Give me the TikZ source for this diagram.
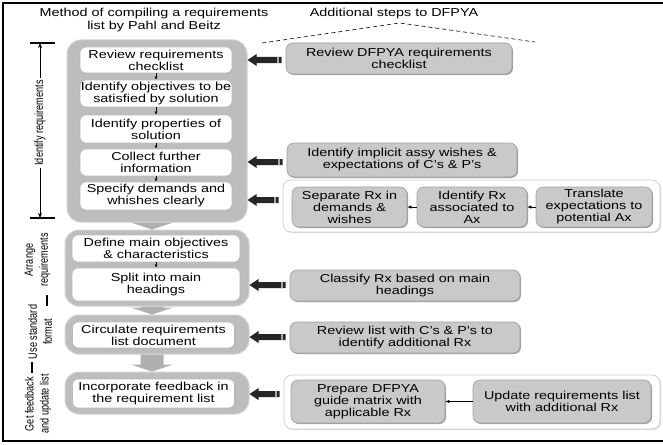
\documentclass[tikz,border=0pt]{standalone}
\usepackage{fontspec}
\setmainfont{Liberation Sans}[FakeStretch=1.25]
\newfontfamily\labfont{Liberation Sans}[FakeStretch=0.76]
\usetikzlibrary{arrows.meta,shadows,calc}
\newcommand\boxfs{\fontsize{11.5}{12}\selectfont}
\newcommand\grayarrow[2]{%
  \fill[gray!62] let \p1=($(#1.south)+(-5pt,0)$), \p2=(#2.north) in
    (\x1-11.5pt,\y1) -- (\x1+11.5pt,\y1) -- (\x1+11.5pt,\y2+7pt) -- (\x1+21pt,\y2+7pt)
    -- (\x1,\y2) -- (\x1-21pt,\y2+7pt) -- (\x1-11.5pt,\y2+7pt) -- cycle;}
\newcommand\bkarrow[3]{%
  \fill[black!85] let \p1=(#1.west), \p2=(#2.east), \p3=(0,#3) in
    (\x2,\y3) -- (\x2+9pt,\y3+6pt) -- (\x2+9pt,\y3+3pt) -- (\x1-4pt,\y3+3pt)
    -- (\x1-4pt,\y3-3pt) -- (\x2+9pt,\y3-3pt) -- (\x2+9pt,\y3-6pt) -- cycle;
  \fill[gray!70] let \p1=(#1.west), \p3=(0,#3) in
    (\x1-9pt,\y3+3pt) rectangle (\x1-7pt,\y3-3pt);}
\begin{document}
\begin{tikzpicture}[x=1pt,y=-1pt,
  container/.style={draw=gray!35, line width=1pt, fill=gray!52, rounded corners=14pt, inner sep=0pt},
  wbox/.style={draw=gray!55, line width=0.6pt, fill=white, rounded corners=6pt, inner sep=0pt, align=center, font=\boxfs,
    drop shadow={shadow xshift=0.8pt, shadow yshift=-0.8pt, fill=gray!60, opacity=0.7}},
  gbox/.style={draw=gray!75, line width=0.6pt, fill=gray!42, rounded corners=7pt, inner sep=0pt, align=center, font=\boxfs,
    drop shadow={shadow xshift=1pt, shadow yshift=-1pt, fill=gray!75!black, opacity=0.6}},
  encl/.style={draw=gray!40, line width=0.7pt, fill=white, rounded corners=8pt, inner sep=0pt,
    drop shadow={shadow xshift=1pt, shadow yshift=-1pt, fill=gray!35, opacity=0.8}},
  lab/.style={rotate=90, align=center, inner sep=2pt, font=\labfont\fontsize{12}{15}\selectfont},
  title/.style={align=center, inner sep=0pt, font=\fontsize{11.5}{13}\selectfont},
  small/.style={-{Latex[length=3pt,width=3pt]}, line width=0.5pt},
  hsmall/.style={-{Latex[length=4pt,width=3.5pt]}, line width=0.7pt}
]
\useasboundingbox (0,0) rectangle (663,444);
% frame
\draw[line width=2.5pt] (663,3) -- (3,3) -- (3,441) -- (663,441);

% titles
\node[title] (t1) at (154,20.5) {Method of compiling a requirements\\list by Pahl and Beitz};
\node[title] (t2) at (394,14) {Additional steps to DFPYA};
\coordinate (dl) at (262,43);
\coordinate (dt) at (400,23);
\coordinate (dr) at (535,42);
\draw[dash pattern=on 4pt off 3pt, line width=0.6pt] (dl) -- (dt) -- (dr);

% containers
\node[container, minimum width=180pt, minimum height=182pt] (c1) at (157,131) {};
\node[container, minimum width=184pt, minimum height=76pt] (c2) at (157,268) {};
\node[container, minimum width=184pt, minimum height=39pt] (c3) at (157,334.5) {};
\node[container, minimum width=184pt, minimum height=42pt] (c4) at (157,393) {};

\grayarrow{c1}{c2}
\grayarrow{c2}{c3}
\grayarrow{c3}{c4}

% white boxes
\node[wbox, minimum width=152pt, minimum height=26pt] (b1) at (156,60) {Review requirements\\checklist};
\node[wbox, minimum width=152pt, minimum height=27pt] (b2) at (156,93.5) {Identify objectives to be\\satisfied by solution};
\node[wbox, minimum width=152pt, minimum height=28pt] (b3) at (156,129) {Identify properties of\\solution};
\node[wbox, minimum width=152pt, minimum height=27pt] (b4) at (156,162.5) {Collect further\\information};
\node[wbox, minimum width=152pt, minimum height=28pt] (b5) at (156,196) {Specify demands and\\whishes clearly};
\node[wbox, minimum width=168pt, minimum height=27pt] (b6) at (156,248.5) {Define main objectives\\\& characteristics};
\node[wbox, minimum width=168pt, minimum height=33pt] (b7) at (156,284.5) {Split into main\\headings};
\node[wbox, minimum width=162pt, minimum height=26pt] (b8) at (153.5,335) {Circulate requirements\\list document};
\node[wbox, minimum width=162pt, minimum height=29pt] (b9) at (153.5,393.5) {Incorporate feedback in\\the requirement list};

\draw[small] (b1.south) -- (b2.north);
\draw[small] (b2.south) -- (b3.north);
\draw[small] (b3.south) -- (b4.north);
\draw[small] (b4.south) -- (b5.north);
\draw[small] (b6.south) -- (b7.north);

% right side
\node[gbox, minimum width=226pt, minimum height=31pt] (r1) at (399,58.5) {Review DFPYA requirements\\checklist};
\node[gbox, minimum width=230pt, minimum height=34pt] (r2) at (402,160) {Identify implicit assy wishes \&\\expectations of C's \& P's};
\node[encl, minimum width=377pt, minimum height=52pt] (e1) at (471.5,206) {};
\node[gbox, minimum width=115pt, minimum height=40pt] (s1) at (349.5,207) {Separate Rx in\\demands \&\\wishes};
\node[gbox, minimum width=110pt, minimum height=40pt] (s2) at (472,207) {Identify Rx\\associated to\\Ax};
\node[gbox, minimum width=116pt, minimum height=40pt] (s3) at (594,207) {Translate\\expectations to\\potential Ax};
\node[gbox, minimum width=230pt, minimum height=31pt] (r3) at (405,285.5) {Classify Rx based on main\\headings};
\node[gbox, minimum width=230pt, minimum height=31pt] (r4) at (405,337.5) {Review list with C's \& P's to\\identify additional Rx};
\node[encl, minimum width=376pt, minimum height=54pt] (e2) at (472,402) {};
\node[gbox, minimum width=154pt, minimum height=43pt] (p1) at (368,401.5) {Prepare DFPYA\\guide matrix with\\applicable Rx};
\node[gbox, minimum width=178pt, minimum height=43pt] (p2) at (562,401.5) {Update requirements list\\with additional Rx};

\draw[hsmall] (s2.west) -- (s1.east);
\draw[hsmall] (s3.west) -- (s2.east);
\draw[hsmall] (p2.west) -- (p1.east);

% thick arrows
\bkarrow{r1}{c1}{60}
\bkarrow{r2}{c1}{162}
\bkarrow{e1}{c1}{200}
\bkarrow{r3}{c2}{285}
\bkarrow{r4}{c3}{337}
\bkarrow{e2}{c4}{394}

% left labels
\node[lab] (lid) at (40,123) {Identify requirements};
\coordinate (ltop) at (40,43);
\coordinate (lbot) at (40,218);
\draw[-{Stealth[length=5pt,width=4pt]}, line width=0.8pt] (lid.east) -- (ltop);
\draw[-{Stealth[length=5pt,width=4pt]}, line width=0.8pt] (lid.west) -- (lbot);
\draw[line width=2pt] ($(ltop)+(-10,0)$) -- ($(ltop)+(15,0)$);
\draw[line width=2pt] ($(lbot)+(-10,0)$) -- ($(lbot)+(15,0)$);

\node[lab] (lar) at (37.5,260) {Arrange\\requirements};
\node[lab] (lus) at (40,332) {Use standard\\format};
\node[lab] (lgf) at (38,404) {Get feedback\\and update list};
\coordinate (bar1a) at (47,295);
\coordinate (bar1b) at (47,306);
\coordinate (bar2a) at (32,362);
\coordinate (bar2b) at (32,373);
\draw[line width=2pt] (bar1a) -- (bar1b);
\draw[line width=2pt] (bar2a) -- (bar2b);
\end{tikzpicture}
\end{document}
